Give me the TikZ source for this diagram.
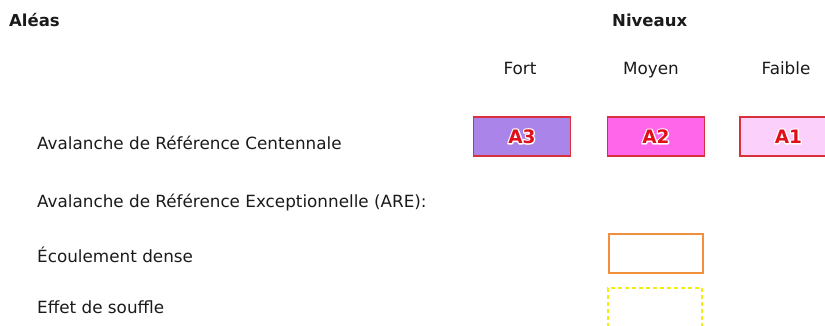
\documentclass[tikz,border=0pt]{standalone}
\usepackage{fontspec}
\setmainfont{DejaVu Sans}
\definecolor{txt}{HTML}{1A1A1A}
\definecolor{bred}{HTML}{D8303C}
\definecolor{lred}{HTML}{E0101A}
\definecolor{fA3}{HTML}{AA84E8}
\definecolor{fA2}{HTML}{FF66EA}
\definecolor{fA1}{HTML}{FBD0FB}
\definecolor{orng}{HTML}{F0903A}
\definecolor{ylw}{HTML}{F2EE10}
\newcommand{\outlined}[1]{\leavevmode\rlap{\special{pdf:literal direct 1 Tr 2.6 w 1 1 1 RG 1 J 1 j}#1\special{pdf:literal direct 0 Tr}}#1}
\begin{document}
\begin{tikzpicture}[x=1pt,y=-1pt,
  lbl/.style={anchor=base west,inner sep=0pt,font=\fontsize{16.8}{20}\selectfont,text=txt},
  hdr/.style={anchor=base west,inner sep=0pt,font=\fontsize{16.5}{20}\selectfont\bfseries,text=txt},
  lvl/.style={anchor=base,inner sep=0pt,font=\fontsize{16.8}{20}\selectfont,text=txt},
  abox/.style={draw=bred,line width=1.3pt,minimum width=97pt,minimum height=39pt,inner sep=0pt,
    font=\fontsize{18.5}{20}\selectfont\bfseries,text=lred},
  obox/.style={draw=orng,line width=1.8pt,minimum width=94pt,minimum height=39pt,inner sep=0pt},
  ybox/.style={draw=ylw,line width=1.6pt,dash pattern=on 4pt off 3pt,minimum width=94pt,minimum height=50pt,inner sep=0pt}]
\useasboundingbox (0,0) rectangle (825,325);
\node[hdr] (aleas) at (9,26) {Aléas};
\node[hdr] (niv) at (612,26) {Niveaux};
\node[lvl] (fort) at (520,74) {Fort};
\node[lvl] (moy) at (651,74) {Moyen};
\node[lvl] (faib) at (786,74) {Faible};
\node[lbl] (arc) at (37,149) {Avalanche de Référence Centennale};
\node[lbl] (are) at (37,207) {Avalanche de Référence Exceptionnelle (ARE):};
\node[lbl] (ecd) at (37,262) {Écoulement dense};
\node[lbl] (eds) at (37,313) {Effet de souffle};
\node[abox,fill=fA3] (a3) at (522,136.5) {\outlined{A3}};
\node[abox,fill=fA2] (a2) at (656,136.5) {\outlined{A2}};
\node[abox,fill=fA1] (a1) at (788.5,136.5) {\outlined{A1}};
\node[obox] (dense) at (656,253.5) {};
\node[ybox] (souffle) at (655,313) {};
\end{tikzpicture}
\end{document}
